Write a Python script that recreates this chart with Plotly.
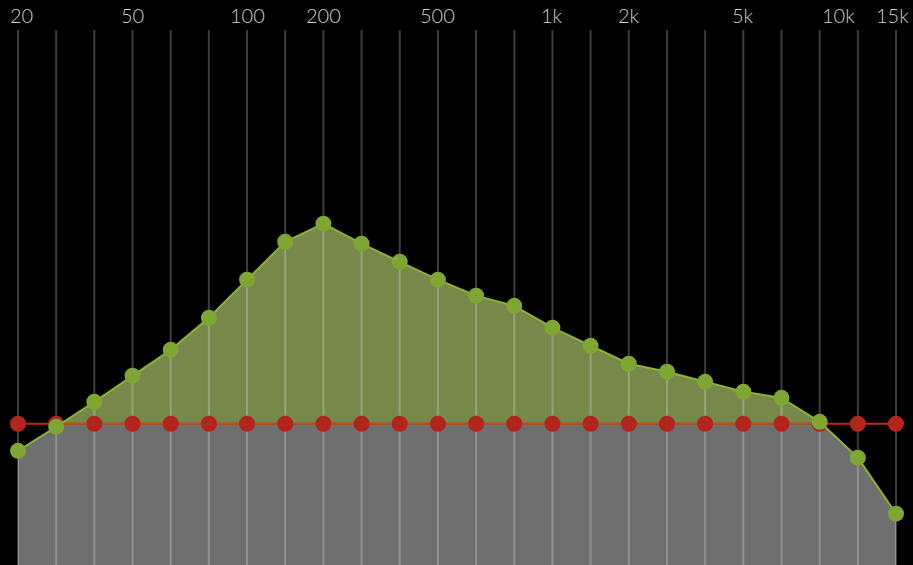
import numpy as np
import plotly.graph_objects as go

# ---- data ----
band_index = list(range(24))
eq_gain_db = [-1.15, -0.13, 0.93, 2.04, 3.14, 4.50, 6.12, 7.73, 8.50, 7.65, 6.88, 6.12,
              5.44, 5.01, 4.08, 3.31, 2.55, 2.21, 1.78, 1.36, 1.10, 0.08, -1.44, -3.82]
flat_gain_db = [0.0] * 24
tick_labels = ["20", "50", "100", "200", "500", "1k", "2k", "5k", "10k", "15k"]
tick_pos = [0.1, 3.0, 6.0, 8.0, 11.0, 14.0, 16.0, 19.0, 21.5, 22.92]

Y_MIN, Y_MAX = -6.0, 18.0
GRID_TOP = 16.73

# ---- build polyline with zero crossings ----
x = np.array(band_index, dtype=float)
g = np.array(eq_gain_db, dtype=float)
xe, ge = [x[0]], [g[0]]
for i in range(len(x) - 1):
    g0, g1 = g[i], g[i + 1]
    if g0 * g1 < 0:
        t = g0 / (g0 - g1)
        xe.append(x[i] + t * (x[i + 1] - x[i]))
        ge.append(0.0)
    xe.append(x[i + 1])
    ge.append(g1)
xe = np.array(xe)
ge = np.array(ge)
upper = np.maximum(ge, 0)
lower = np.minimum(ge, 0)

# zero segments under the green area
seg_pos = [(upper[k] > 0 or upper[k + 1] > 0) for k in range(len(xe) - 1)]
orange_y = []
for k in range(len(xe)):
    left = seg_pos[k - 1] if k > 0 else False
    right = seg_pos[k] if k < len(seg_pos) else False
    orange_y.append(0.0 if (left or right) else None)

fig = go.Figure()
fig.add_trace(go.Scatter(x=xe, y=[Y_MIN] * len(xe), mode="lines",
                         line=dict(width=0), hoverinfo="skip"))
fig.add_trace(go.Scatter(x=xe, y=lower, mode="lines", line=dict(width=0),
                         fill="tonexty", fillcolor="rgb(111,111,111)", hoverinfo="skip"))
fig.add_trace(go.Scatter(x=xe, y=np.zeros(len(xe)), mode="lines",
                         line=dict(width=0), hoverinfo="skip"))
fig.add_trace(go.Scatter(x=xe, y=upper, mode="lines", line=dict(width=0),
                         fill="tonexty", fillcolor="rgb(118,136,74)", hoverinfo="skip"))

# vertical grid lines drawn above fills
gx, gy = [], []
for xi in band_index:
    gx += [xi, xi, None]
    gy += [Y_MIN, GRID_TOP, None]
fig.add_trace(go.Scatter(x=gx, y=gy, mode="lines",
                         line=dict(color="rgba(255,255,255,0.24)", width=2),
                         hoverinfo="skip"))

# reference (flat) line
fig.add_trace(go.Scatter(x=band_index, y=flat_gain_db, mode="lines",
                         line=dict(color="rgb(190,38,30)", width=2), hoverinfo="skip"))
fig.add_trace(go.Scatter(x=xe, y=orange_y, mode="lines", connectgaps=False,
                         line=dict(color="rgb(172,88,38)", width=2), hoverinfo="skip"))
fig.add_trace(go.Scatter(x=band_index, y=flat_gain_db, mode="markers",
                         marker=dict(color="rgb(178,36,30)", size=16), hoverinfo="skip"))

# eq curve
fig.add_trace(go.Scatter(x=band_index, y=eq_gain_db, mode="lines+markers",
                         line=dict(color="rgb(140,178,52)", width=2),
                         marker=dict(color="rgb(126,166,50)", size=16),
                         hoverinfo="skip"))

for lab, p in zip(tick_labels, tick_pos):
    fig.add_annotation(x=p, y=1 - 15 / 565, xref="x", yref="paper", text=lab,
                       showarrow=False, xanchor="center", yanchor="middle",
                       font=dict(family="Lato, Noto Sans, sans-serif", size=20,
                                 weight=300, color="rgb(205,205,205)"))

fig.update_layout(
    width=913, height=565, margin=dict(l=0, r=0, t=0, b=0),
    paper_bgcolor="black", plot_bgcolor="black", showlegend=False,
    hovermode=False,
    xaxis=dict(range=[-0.4715, 23.445], visible=False, fixedrange=True),
    yaxis=dict(range=[Y_MIN, Y_MAX], visible=False, fixedrange=True),
)
fig.write_html("out.html")
